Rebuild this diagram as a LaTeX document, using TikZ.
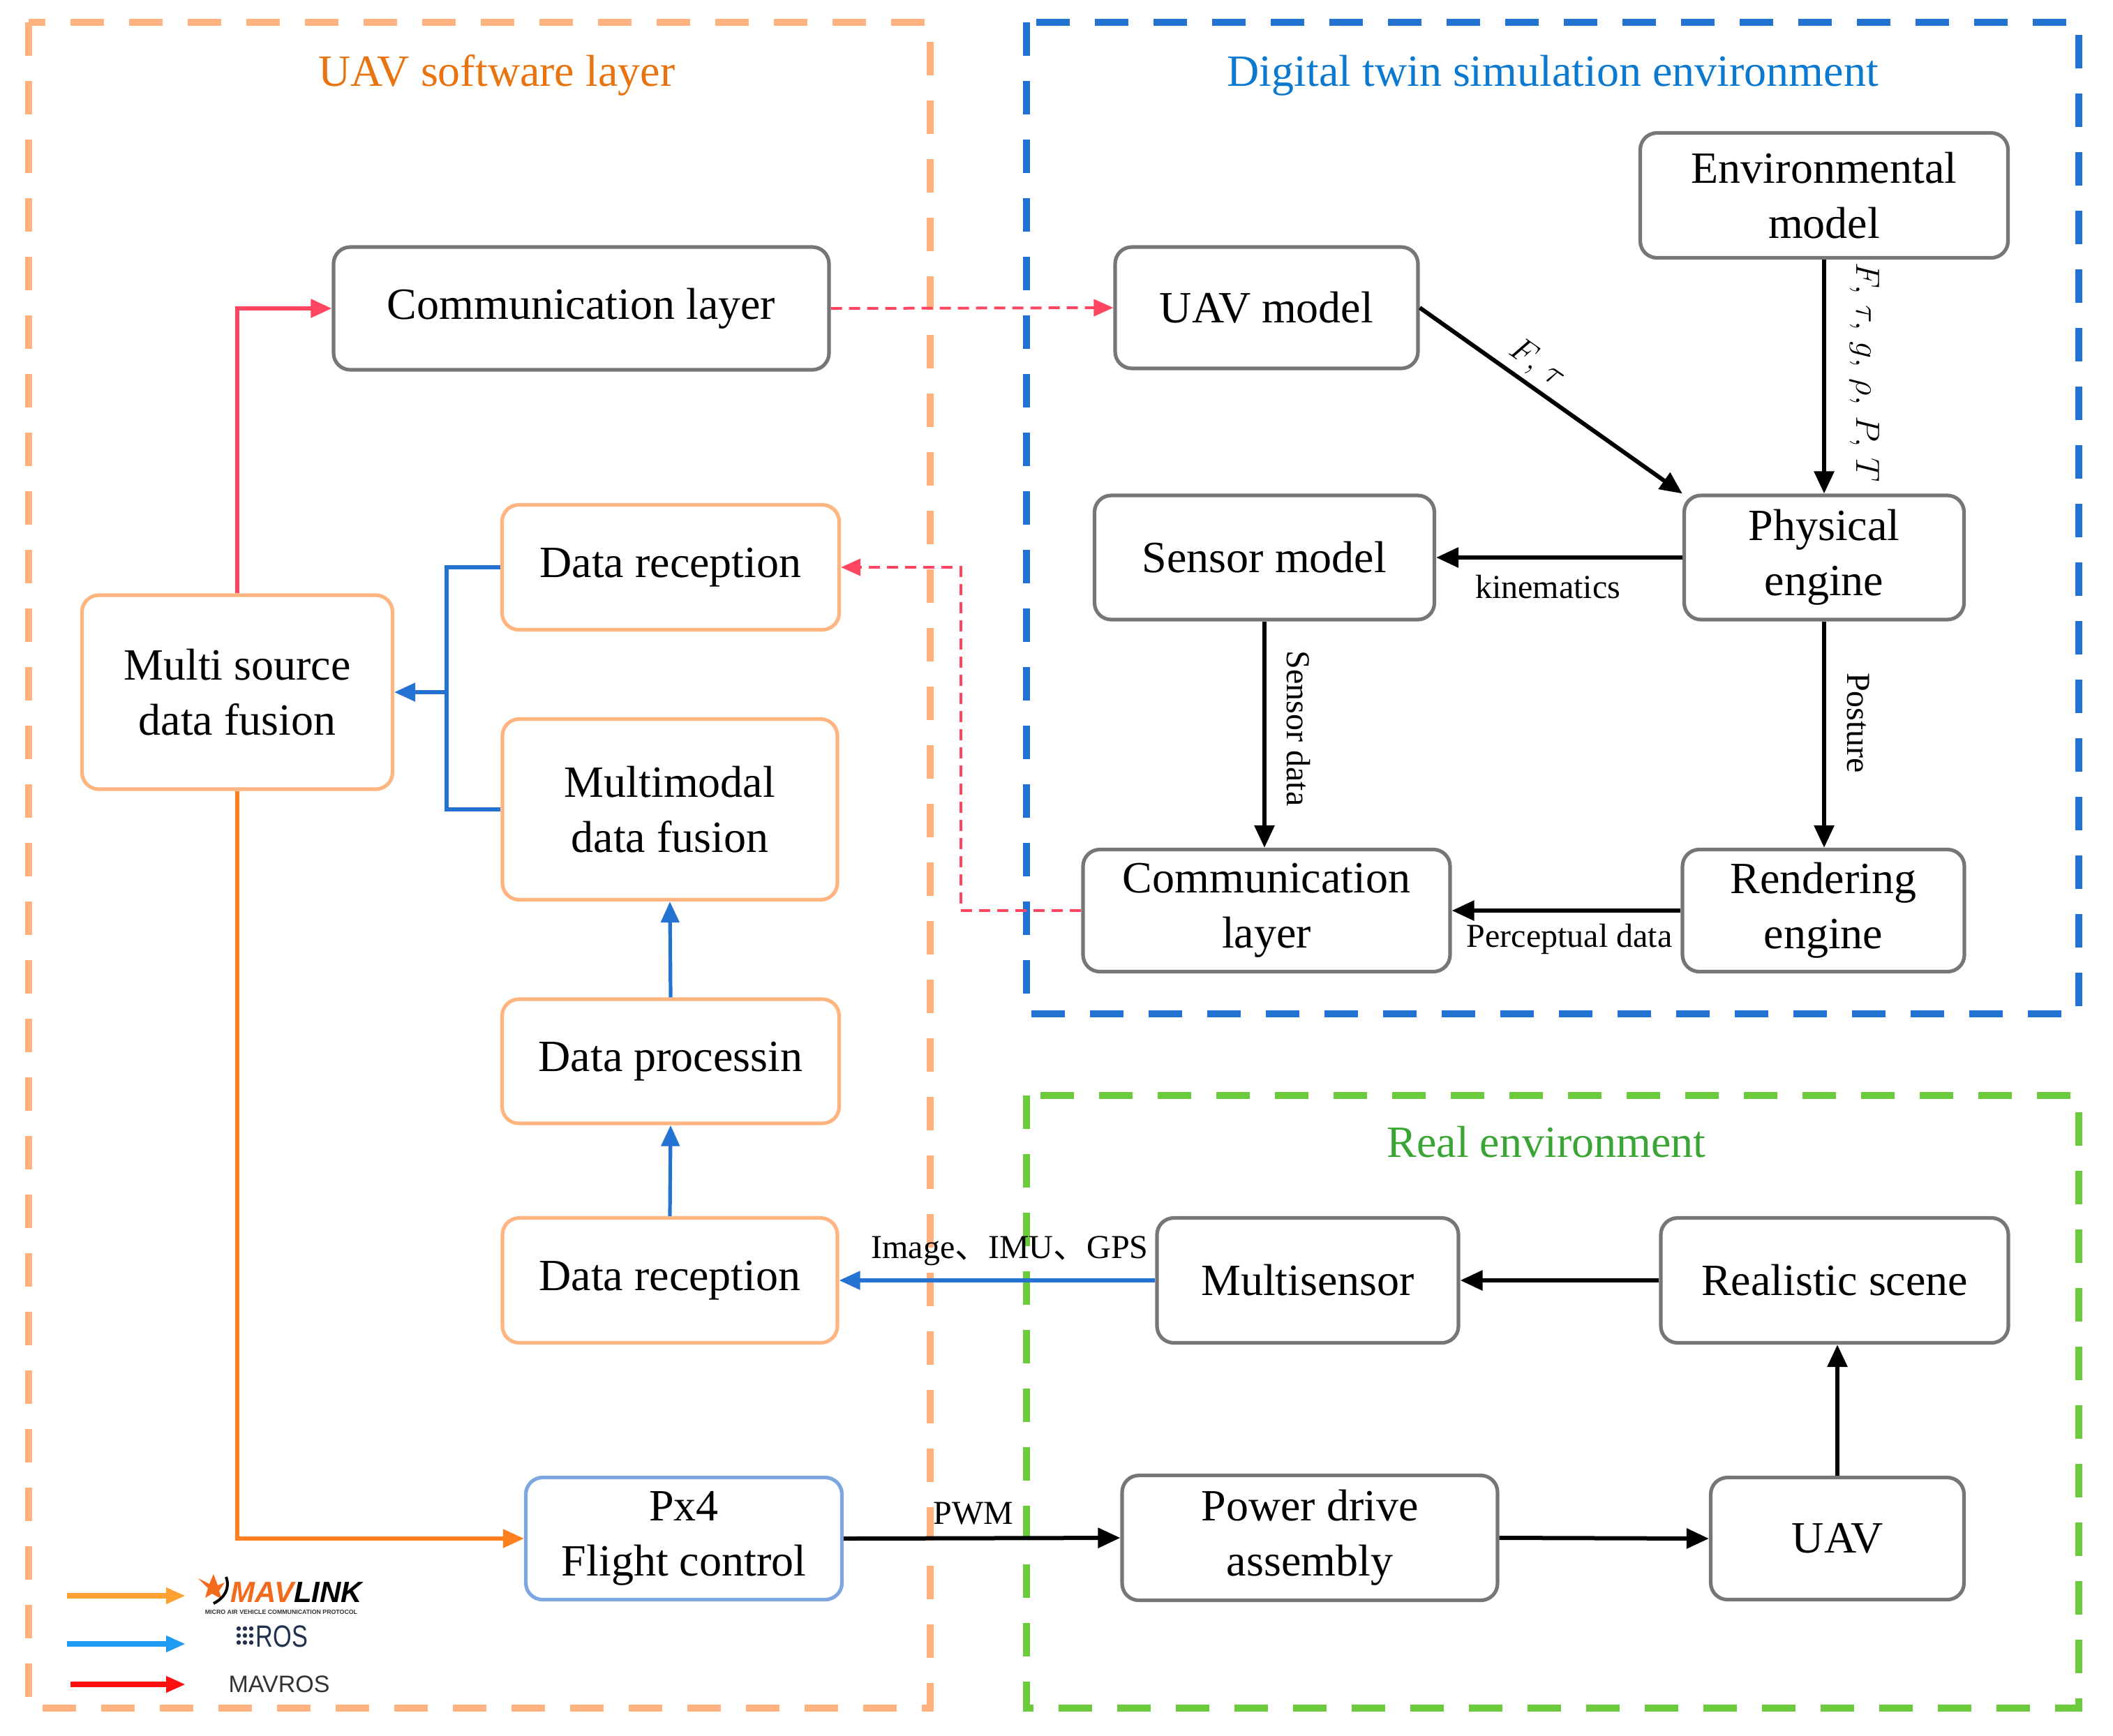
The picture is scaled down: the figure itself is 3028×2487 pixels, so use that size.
\documentclass[tikz,border=0pt]{standalone}
\usepackage{fontspec}
\setmainfont{Liberation Serif}
\newfontfamily\mycjkfont{Noto Sans CJK SC}
\newfontfamily\legsans{Liberation Sans}
\usetikzlibrary{arrows.meta}
\definecolor{frameO}{HTML}{FFB27F}
\definecolor{frameB}{HTML}{2272D2}
\definecolor{frameG}{HTML}{6CCB3C}
\definecolor{titleO}{HTML}{E8730F}
\definecolor{titleB}{HTML}{0B79CF}
\definecolor{titleG}{HTML}{3AA535}
\definecolor{boxgray}{HTML}{767676}
\definecolor{oboxc}{HTML}{FFB580}
\definecolor{px4c}{HTML}{7EA6E0}
\definecolor{redc}{HTML}{FF4560}
\definecolor{bluec}{HTML}{2472D2}
\definecolor{orangec}{HTML}{FF7F1F}
\definecolor{legO}{HTML}{FFA033}
\definecolor{legB}{HTML}{1E9BF0}
\definecolor{legR}{HTML}{FF1010}
\definecolor{mavorange}{HTML}{F26B1D}
\definecolor{rosnavy}{HTML}{22314E}
\begin{document}
\begin{tikzpicture}[x=0.25pt,y=-0.25pt,
  frame/.style={line width=2.5pt, dash pattern=on 12pt off 9pt},
  box/.style={draw=boxgray, line width=1.3pt, rounded corners=6pt, inner sep=0pt, align=center, font=\fontsize{16}{19.75}\selectfont},
  obox/.style={box, draw=oboxc},
  pbox/.style={box, draw=px4c},
  ttl/.style={font=\fontsize{16}{19}\selectfont, inner sep=0pt},
  lbl/.style={font=\fontsize{12}{14}\selectfont, inner sep=0pt},
  blk/.style={line width=1.5pt, -{Triangle[length=8pt,width=7pt]}},
  bluearr/.style={draw=bluec, line width=1.3pt, -{Triangle[length=7.5pt,width=6.5pt]}},
  bluel/.style={draw=bluec, line width=1.3pt},
  redarr/.style={draw=redc, line width=1.3pt, -{Triangle[length=7.5pt,width=6.5pt]}},
  reddash/.style={draw=redc, line width=1pt, dash pattern=on 4pt off 2.5pt, -{Triangle[length=7pt,width=6pt]}},
  orarr/.style={draw=orangec, line width=1.3pt, -{Triangle[length=7.5pt,width=6.5pt]}},
  legarr/.style={line width=2pt, -{Triangle[length=7pt,width=5.5pt]}}
]
\useasboundingbox (0,0) rectangle (3028,2487);

% frames
\draw[frame, draw=frameO] (41,32) rectangle (1333,2448);
\draw[frame, draw=frameB] (1471,32) rectangle (2979,1453);
\draw[frame, draw=frameG] (1471,1570) rectangle (2979,2448);

% titles
\node[ttl, text=titleO] (tO) at (712,108) {UAV software layer};
\node[ttl, text=titleB] (tB) at (2225,108) {Digital twin simulation environment};
\node[ttl, text=titleG] (tG) at (2216,1637) {Real environment};

% left boxes
\node[box, minimum width=177.5pt, minimum height=44pt] (comL) at (833,442) {Communication layer};
\node[obox, minimum width=120.75pt, minimum height=44.75pt] (drTop) at (961,813) {Data reception};
\node[obox, minimum width=111.25pt, minimum height=69.5pt] (msdf) at (340,992) {Multi source\\data fusion};
\node[obox, minimum width=120pt, minimum height=64.75pt] (mmdf) at (960,1160) {Multimodal\\data fusion};
\node[obox, minimum width=120.75pt, minimum height=44.5pt] (dproc) at (961,1521) {Data processin};
\node[obox, minimum width=120pt, minimum height=44.75pt] (drBot) at (960,1835) {Data reception};
\node[pbox, minimum width=113.25pt, minimum height=43.75pt] (px4) at (980,2205) {Px4\\Flight control};

% digital twin boxes
\node[box, minimum width=131.75pt, minimum height=44.75pt] (env) at (2614,280) {Environmental\\model};
\node[box, minimum width=108.5pt, minimum height=43.5pt] (uavm) at (1815,441) {UAV model};
\node[box, minimum width=121.75pt, minimum height=44.5pt] (sensm) at (1812,799) {Sensor model};
\node[box, minimum width=100.25pt, minimum height=44.5pt] (phys) at (2614,799) {Physical\\engine};
\node[box, minimum width=131.5pt, minimum height=43.75pt] (comR) at (1815,1305) {Communication\\layer};
\node[box, minimum width=101pt, minimum height=43.75pt] (rend) at (2613,1305) {Rendering\\engine};

% real environment boxes
\node[box, minimum width=108pt, minimum height=44.75pt] (multis) at (1874,1835) {Multisensor};
\node[box, minimum width=124.5pt, minimum height=44.75pt] (real) at (2629,1835) {Realistic scene};
\node[box, minimum width=134.5pt, minimum height=44.75pt] (pda) at (1877,2204) {Power drive\\assembly};
\node[box, minimum width=90.75pt, minimum height=43.75pt] (uav) at (2633,2205) {UAV};

% connectors: left side
\draw[redarr] (msdf.north) |- (comL.west);
\draw[reddash] (comL.east) -- (uavm.west);
\coordinate (rdc) at (1377,813);
\draw[reddash] (comR.west) -| (rdc) -- (drTop.east);
\coordinate (bj) at (640,992);
\draw[bluel] (drTop.west) -| (bj);
\draw[bluel] (mmdf.west) -| (bj);
\draw[bluearr] (bj) -- (msdf.east);
\draw[bluearr] (dproc.north) -- (mmdf.south);
\draw[bluearr] (drBot.north) -- (dproc.south);
\draw[bluearr] (multis.west) -- (drBot.east);
\draw[orarr] (msdf.south) |- (px4.west);
\draw[blk] (px4.east) -- (pda.west);

% connectors: digital twin
\draw[blk] (uavm.east) -- (phys.north west);
\draw[blk] (env.south) -- (phys.north);
\draw[blk] (phys.west) -- (sensm.east);
\draw[blk] (sensm.south) -- (sensm.south |- comR.north);
\draw[blk] (phys.south) -- (phys.south |- rend.north);
\draw[blk] (rend.west) -- (comR.east);

% connectors: real environment
\draw[blk] (pda.east) -- (uav.west);
\draw[blk] (uav.north) -- (uav.north |- real.south);
\draw[blk] (real.west) -- (multis.east);

% labels
\node[lbl, rotate=-35] (lFt) at (2203,522) {$F,\,\tau$};
\node[lbl, rotate=-90, font=\fontsize{12.5}{15}\selectfont] (lEnv) at (2672,534) {$F,\,\tau,\,g,\,\rho,\,P,\,T$};
\node[lbl] (lKin) at (2218,841) {kinematics};
\node[lbl, rotate=-90] (lSens) at (1861,1044) {Sensor data};
\node[lbl, rotate=-90] (lPost) at (2663,1036) {Posture};
\node[lbl] (lPerc) at (2249,1346) {Perceptual data};
\node[lbl] (lImg) at (1447,1793) {Image{\mycjkfont 、}IMU{\mycjkfont 、}GPS};
\node[lbl] (lPWM) at (1395,2169) {PWM};

% legend
\coordinate (lo1) at (96,2287); \coordinate (lo2) at (266,2287);
\coordinate (lb1) at (96,2356); \coordinate (lb2) at (266,2356);
\coordinate (lr1) at (101,2414); \coordinate (lr2) at (266,2414);
\draw[legarr, draw=legO] (lo1) -- (lo2);
\draw[legarr, draw=legB] (lb1) -- (lb2);
\draw[legarr, draw=legR] (lr1) -- (lr2);
% MAVLINK logo
\fill[mavorange] (284,2262) -- (300,2270) -- (306,2256) -- (312,2272) -- (322,2268) -- (314,2280) -- (318,2292) -- (304,2284) -- (294,2290) -- (298,2276) -- cycle;
\draw[black, line width=1pt] (324,2260) .. controls (330,2276) and (322,2290) .. (306,2298);
\node[inner sep=0pt, font=\legsans\bfseries\itshape\fontsize{10.5}{12}\selectfont] (mavl) at (425,2282) {\textcolor{mavorange}{MAV}LINK};
\node[inner sep=0pt, font=\legsans\bfseries\fontsize{2.2}{2.6}\selectfont, text=black!80] (mavsub) at (403,2310) {MICRO AIR VEHICLE COMMUNICATION PROTOCOL};
% ROS logo
\foreach \i in {0,1,2} {\foreach \j in {0,1,2} {\fill[rosnavy] (342+9*\i,2334+10*\j) circle (3.2);}}
\node[inner sep=0pt, text=rosnavy, font=\legsans\fontsize{11}{12}\selectfont] (rost) at (404,2345) {\scalebox{0.78}[1]{ROS}};
\node[inner sep=0pt, text=black!80, font=\legsans\fontsize{8.5}{10}\selectfont] (mavros) at (400,2414) {MAVROS};
\end{tikzpicture}
\end{document}
